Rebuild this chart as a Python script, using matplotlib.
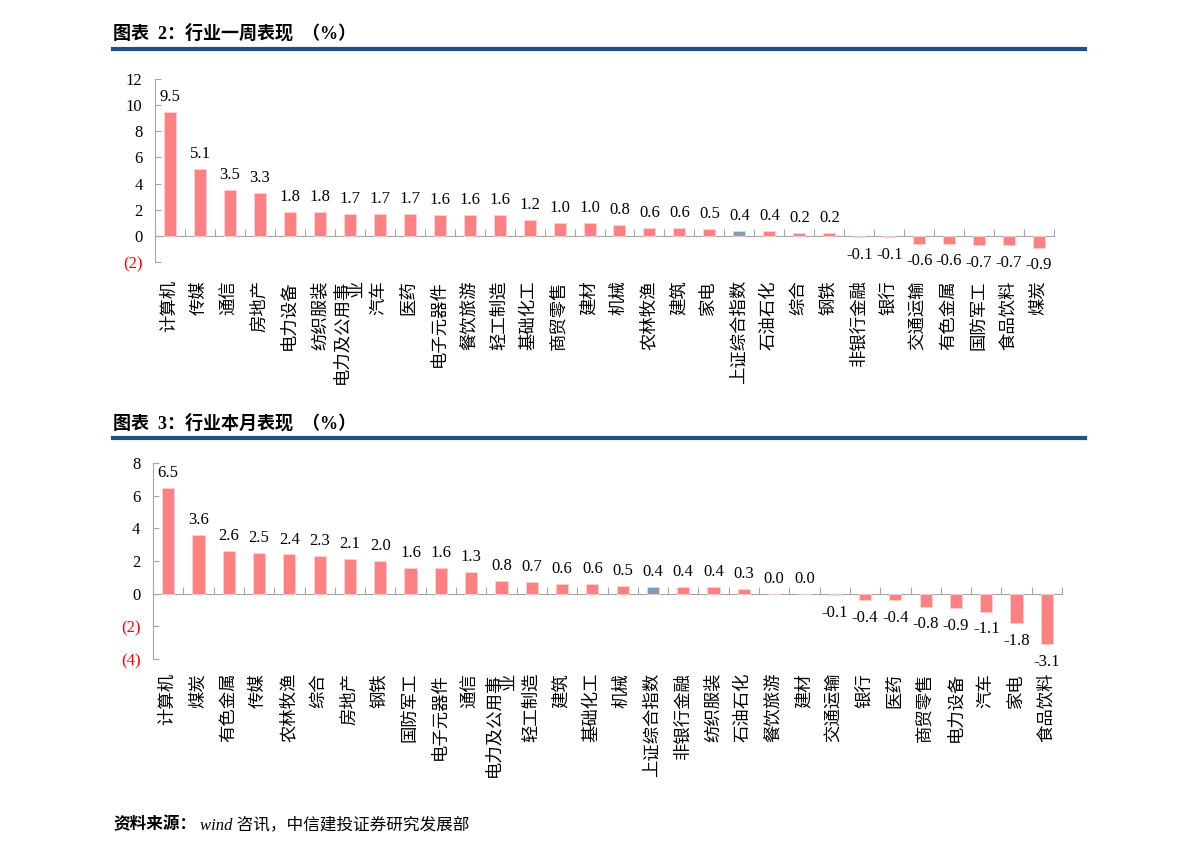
import matplotlib
matplotlib.use("Agg")
import matplotlib.pyplot as plt
from matplotlib.lines import Line2D

plt.rcParams['font.family'] = ['Liberation Serif', 'Noto Sans CJK SC', 'DejaVu Sans']

#------------------------------------------------------------------------------
# data: weekly performance (%)
week_names = ["计算机", "传媒", "通信", "房地产", "电力设备", "纺织服装", "电力及公用事业",
              "汽车", "医药", "电子元器件", "餐饮旅游", "轻工制造", "基础化工", "商贸零售",
              "建材", "机械", "农林牧渔", "建筑", "家电", "上证综合指数", "石油石化", "综合",
              "钢铁", "非银行金融", "银行", "交通运输", "有色金属", "国防军工", "食品饮料", "煤炭"]
week_vals = [9.5, 5.1, 3.5, 3.3, 1.8, 1.8, 1.7, 1.7, 1.7, 1.6, 1.6, 1.6, 1.2, 1.0,
             1.0, 0.8, 0.6, 0.6, 0.5, 0.4, 0.4, 0.2, 0.2, -0.1, -0.1, -0.6, -0.6, -0.7, -0.7, -0.9]
week_ticks = [-2, 0, 2, 4, 6, 8, 10, 12]

# data: monthly performance (%)
month_names = ["计算机", "煤炭", "有色金属", "传媒", "农林牧渔", "综合", "房地产", "钢铁",
               "国防军工", "电子元器件", "通信", "电力及公用事业", "轻工制造", "建筑", "基础化工",
               "机械", "上证综合指数", "非银行金融", "纺织服装", "石油石化", "餐饮旅游", "建材",
               "交通运输", "银行", "医药", "商贸零售", "电力设备", "汽车", "家电", "食品饮料"]
month_vals = [6.5, 3.6, 2.6, 2.5, 2.4, 2.3, 2.1, 2.0, 1.6, 1.6, 1.3, 0.8, 0.7, 0.6, 0.6,
              0.5, 0.4, 0.4, 0.4, 0.3, 0.0, 0.0, -0.1, -0.4, -0.4, -0.8, -0.9, -1.1, -1.8, -3.1]
month_ticks = [-4, -2, 0, 2, 4, 6, 8]

index_name = "上证综合指数"

#------------------------------------------------------------------------------

W, H = 1191, 852
BAR = "#FF8080"
BLUE = "#7D9DBA"
GREY = "#A6A6A6"
NAVY = "#1A5186"


def fx(px):
    return px / W


def fy(py):
    return 1 - py / H


def fmt_tick(v):
    return "(%d)" % abs(v) if v < 0 else "%d" % v


def label(name):
    # long names wrap like Excel does
    if len(name) > 6:
        return name[:6] + "\n" + name[6:]
    return name


def draw_chart(ax, names, vals, yticks, label_pad):
    n = len(names)
    x = list(range(n))
    colors = [BLUE if nm == index_name else BAR for nm in names]
    ax.bar(x, vals, width=0.4, color=colors, edgecolor="#FFD0D0", linewidth=0.6, zorder=2)
    ax.set_xlim(-0.5, n - 0.5)
    ax.set_ylim(yticks[0], yticks[-1])

    ax.set_yticks(yticks)
    ax.set_yticklabels([fmt_tick(v) for v in yticks], fontsize=12)
    for t, v in zip(ax.get_yticklabels(), yticks):
        if v < 0:
            t.set_color("red")
    ax.tick_params(axis="y", direction="in", length=4, color=GREY, pad=9)

    ax.set_xticks(x)
    ax.set_xticklabels([label(nm) for nm in names], rotation=90, fontsize=12.5,
                       ha="center", va="top", ma="right", linespacing=1.0)
    ax.tick_params(axis="x", length=0, pad=label_pad)

    for s in ["top", "right", "bottom"]:
        ax.spines[s].set_visible(False)
    ax.spines["left"].set_color(GREY)

    # zero line with category boundary ticks
    zero = (0 - yticks[0]) / (yticks[-1] - yticks[0])
    sec = ax.secondary_xaxis(zero)
    sec.set_xticks([i - 0.5 for i in range(n + 1)])
    sec.set_xticklabels([])
    sec.tick_params(direction="in", length=5, color=GREY)
    sec.spines["bottom"].set_color(GREY)

    for i, v in enumerate(vals):
        if v >= 0:
            ax.annotate("%.1f" % v, (i, v), xytext=(0, 5), textcoords="offset points",
                        ha="center", va="bottom", fontsize=12)
        else:
            ax.annotate("%.1f" % v, (i, v), xytext=(0, -7), textcoords="offset points",
                        ha="center", va="top", fontsize=12)


def title(text, ytext, yline):
    fig.text(fx(113), fy(ytext), text, fontsize=13, fontweight="bold",
             ha="left", va="center")
    fig.add_artist(Line2D([fx(113), fx(1085)], [fy(yline), fy(yline)],
                          transform=fig.transFigure, color=NAVY, lw=3))


fig = plt.figure(figsize=(W / 100, H / 100), dpi=100)

title("图表  2：行业一周表现  （%）", 33, 49)
ax1 = fig.add_axes([fx(155), fy(262), fx(1054 - 155), (262 - 79) / H])
draw_chart(ax1, week_names, week_vals, week_ticks, 13)

title("图表  3：行业本月表现  （%）", 423, 438)
ax2 = fig.add_axes([fx(153), fy(659), fx(1062 - 153), (659 - 463) / H])
draw_chart(ax2, month_names, month_vals, month_ticks, 10)

fig.text(fx(113), fy(825), "资料来源：", fontsize=12, fontweight="bold", ha="left", va="center")
fig.text(fx(200), fy(825), "wind 咨讯，中信建投证券研究发展部", fontsize=12, style="italic",
         ha="left", va="center")

fig.savefig("out.png", dpi=100)
